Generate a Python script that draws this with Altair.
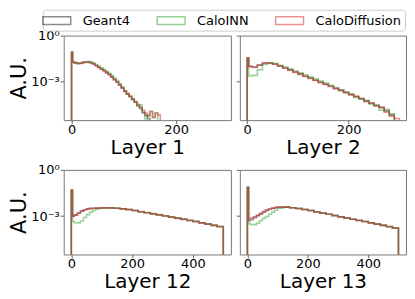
import altair as alt
import pandas as pd

series = ["Geant4", "CaloINN", "CaloDiffusion"]
colors = ["#000000", "#2ca02c", "#d62728"]
alphas = [0.45, 0.5, 0.3]

layer_titles = ["Layer 1", "Layer 2", "Layer 12", "Layer 13"]

# bin edges per layer
l1_edges = [0, 2] + list(range(5, 175, 5))
l2_edges = [0, 3] + list(range(10, 320, 10))
l12_edges = [0, 4] + list(range(10, 100, 10)) + list(range(100, 520, 20))
l13_edges = [0, 4] + list(range(10, 100, 10)) + list(range(100, 520, 20))

# Layer 1
g4_l1 = [0.08, 0.018, 0.0165, 0.0145, 0.015, 0.0168, 0.018, 0.018, 0.0165, 0.014,
         0.0107, 0.0083, 0.0063, 0.005, 0.0038, 0.0028, 0.0019, 0.0013, 9e-4, 5.6e-4,
         3.5e-4, 2.1e-4, 1.4e-4, 1e-4, 6.3e-5, 4.2e-5, 2.5e-5, 1.6e-5, 9e-6, 5.6e-6,
         3.5e-6, 0, 0, 0, 0]
inn_l1 = [0.07, 0.017, 0.016, 0.015, 0.0155, 0.0172, 0.019, 0.0195, 0.018, 0.0155,
          0.0125, 0.0098, 0.0075, 0.0058, 0.0045, 0.0033, 0.0023, 0.0016, 0.0011, 7e-4,
          4.2e-4, 2.4e-4, 1.5e-4, 9e-5, 7e-5, 4e-5, 2.2e-5, 2.8e-5, 8e-6, 0,
          6e-6, 1e-5, 4e-6, 8e-6, 0]
diff_l1 = [0.085, 0.019, 0.0165, 0.014, 0.0148, 0.0165, 0.0175, 0.0172, 0.0155, 0.013,
           0.0102, 0.008, 0.006, 0.0046, 0.0035, 0.0026, 0.0018, 0.0012, 8.5e-4, 5.5e-4,
           3.6e-4, 2.3e-4, 1.5e-4, 1e-4, 6.5e-5, 4.5e-5, 3e-5, 2e-5, 1.2e-5, 8e-6,
           5e-6, 1e-5, 4e-6, 8e-6, 6e-6]

# Layer 2
g4_l2 = [0.034, 0.0095, 0.0085, 0.0115, 0.0155, 0.0158, 0.0135, 0.01, 0.0074, 0.0055,
         0.004, 0.003, 0.0021, 0.0016, 0.00115, 8.5e-4, 6.3e-4, 4.6e-4, 3.3e-4, 2.45e-4,
         1.8e-4, 1.3e-4, 9.5e-5, 7e-5, 5e-5, 3.5e-5, 2.5e-5, 1.8e-5, 1.1e-5, 6e-6,
         0, 0]
inn_l2 = [0.03, 0.0022, 0.0024, 0.0055, 0.0125, 0.016, 0.0145, 0.0112, 0.0085, 0.0064,
          0.0047, 0.0035, 0.0026, 0.0019, 0.0014, 1e-3, 7.4e-4, 5.4e-4, 3.8e-4, 2.7e-4,
          1.9e-4, 1.4e-4, 8.5e-5, 6.5e-5, 5.5e-5, 3e-5, 2.8e-5, 1.2e-5, 1.4e-5, 7e-6,
          0, 0]
diff_l2 = [0.034, 0.009, 0.008, 0.011, 0.015, 0.0155, 0.013, 0.0097, 0.0071, 0.0052,
           0.0038, 0.0028, 0.002, 0.0015, 0.0011, 8e-4, 6e-4, 4.4e-4, 3.2e-4, 2.4e-4,
           1.75e-4, 1.3e-4, 1e-4, 7.5e-5, 4.5e-5, 3.8e-5, 2.2e-5, 2e-5, 9e-6, 5e-6,
           3.5e-6, 0]

# Layer 12
g4_l12 = [0.05, 1e-3, 1.2e-3, 1.6e-3, 2.1e-3, 2.6e-3, 2.95e-3, 3.15e-3, 3.25e-3, 3.3e-3,
          3.35e-3, 3.4e-3, 3.4e-3, 3.25e-3, 2.95e-3, 2.65e-3, 2.3e-3, 1.9e-3, 1.66e-3, 1.4e-3,
          1.2e-3, 1e-3, 8.5e-4, 7.2e-4, 6.2e-4, 5.2e-4, 4.4e-4, 3.6e-4, 3e-4, 2.5e-4,
          2.1e-4]
inn_l12 = [0.048, 4.5e-4, 3.7e-4, 3.6e-4, 4.8e-4, 8e-4, 1.25e-3, 1.8e-3, 2.35e-3, 2.8e-3,
           3.1e-3, 3.4e-3, 3.5e-3, 3.35e-3, 3e-3, 2.65e-3, 2.3e-3, 1.95e-3, 1.7e-3, 1.45e-3,
           1.25e-3, 1.05e-3, 9e-4, 7.6e-4, 6.4e-4, 5.4e-4, 4.5e-4, 3.7e-4, 3.1e-4, 2.6e-4,
           2.1e-4]
diff_l12 = [0.05, 9.5e-4, 1.15e-3, 1.55e-3, 2.05e-3, 2.55e-3, 2.9e-3, 3.1e-3, 3.25e-3, 3.3e-3,
            3.35e-3, 3.4e-3, 3.4e-3, 3.25e-3, 2.95e-3, 2.62e-3, 2.28e-3, 1.9e-3, 1.64e-3, 1.4e-3,
            1.18e-3, 1e-3, 8.4e-4, 7.1e-4, 6.1e-4, 5.2e-4, 4.4e-4, 3.6e-4, 3e-4, 2.5e-4,
            2.05e-4]

# Layer 13
g4_l13 = [0.075, 5e-4, 6e-4, 8e-4, 1.05e-3, 1.4e-3, 1.85e-3, 2.35e-3, 2.85e-3, 3.25e-3,
          3.55e-3, 3.8e-3, 3.8e-3, 3.45e-3, 3.1e-3, 2.7e-3, 2.3e-3, 1.82e-3, 1.55e-3, 1.3e-3,
          1.07e-3, 8.9e-4, 7.4e-4, 6.2e-4, 5.2e-4, 4.4e-4, 3.6e-4, 3e-4, 2.5e-4, 2.1e-4,
          1.66e-4]
inn_l13 = [0.072, 3.2e-4, 2.8e-4, 2.8e-4, 3.5e-4, 5e-4, 7e-4, 9.5e-4, 1.3e-3, 1.8e-3,
           2.4e-3, 3.2e-3, 3.8e-3, 3.5e-3, 3.15e-3, 2.75e-3, 2.3e-3, 1.85e-3, 1.57e-3, 1.3e-3,
           1.08e-3, 9e-4, 7.5e-4, 6.2e-4, 5.3e-4, 4.4e-4, 3.7e-4, 3.1e-4, 2.6e-4, 2e-4,
           1.7e-4]
diff_l13 = [0.075, 7e-4, 7.5e-4, 9e-4, 1.15e-3, 1.5e-3, 1.95e-3, 2.45e-3, 2.9e-3, 3.3e-3,
            3.6e-3, 3.8e-3, 3.8e-3, 3.45e-3, 3.1e-3, 2.7e-3, 2.3e-3, 1.85e-3, 1.55e-3, 1.3e-3,
            1.08e-3, 8.9e-4, 7.4e-4, 6.2e-4, 5.2e-4, 4.4e-4, 3.6e-4, 3e-4, 2.5e-4, 2.1e-4,
            1.7e-4]

x_ticks_top = [0, 200]
x_ticks_bottom = [0, 200, 400]
y_ticks = [1, 0.001]

FLOOR = 1e-9


def step_frame(edges, value_lists):
    rows = []
    for name, vals in zip(series, value_lists):
        idx = 0
        pts = [(edges[0], FLOOR)]
        for e, v in zip(edges[:-1], vals):
            pts.append((e, v if v > 0 else FLOOR))
        last = vals[-1] if vals[-1] > 0 else FLOOR
        pts.append((edges[-1], last))
        pts.append((edges[-1], FLOOR))
        for x, y in pts:
            rows.append({"series": name, "x": x, "y": y, "idx": idx})
            idx += 1
    return pd.DataFrame(rows)


legend = alt.Legend(
    title=None, orient="none", legendX=-21, legendY=-26, direction="horizontal",
    symbolType="M-2,-0.57L2,-0.57L2,0.57L-2,0.57Z", symbolSize=196,
    symbolOffset=3, symbolStrokeWidth=1.5, symbolFillColor="transparent",
    labelFontSize=13, labelFont="DejaVu Sans", labelColor="black",
    labelOffset=18, columnPadding=24, padding=3,
    strokeColor="#cccccc", cornerRadius=3, fillColor="white",
)


def panel(df, title, xdom, ydom, xticks, left, w):
    if left:
        yaxis = alt.Axis(values=y_ticks, labelExpr="datum.value > 0.5 ? '10⁰' : '10⁻³'",
                         title="A.U.", titleFontSize=21, titleFontWeight="normal",
                         titlePadding=1, labelFontSize=13, labelPadding=1,
                         tickSize=3.5, grid=False, domain=False)
    else:
        yaxis = alt.Axis(values=y_ticks, labels=False, title=None,
                         tickSize=3.5, grid=False, domain=False)
    xaxis = alt.Axis(values=xticks, title=title, titleFontSize=20, titleFontWeight="normal",
                     titlePadding=1, labelFontSize=13, labelPadding=0, tickSize=3.5,
                     grid=False, domain=False, labelFlush=False)
    return alt.Chart(df).mark_line(interpolate="step-after", clip=True, strokeWidth=1.6).encode(
        x=alt.X("x:Q", scale=alt.Scale(domain=xdom, nice=False, zero=False), axis=xaxis),
        y=alt.Y("y:Q", scale=alt.Scale(type="log", domain=ydom, nice=False), axis=yaxis),
        color=alt.Color("series:N", scale=alt.Scale(domain=series, range=colors), legend=legend),
        opacity=alt.Opacity("series:N", scale=alt.Scale(domain=series, range=alphas), legend=legend),
        order=alt.Order("idx:Q"),
    ).properties(width=w, height=85)


p1 = panel(step_frame(l1_edges, [g4_l1, inn_l1, diff_l1]), layer_titles[0],
           [-15, 305], [2.7e-6, 1], x_ticks_top, True, 168)
p2 = panel(step_frame(l2_edges, [g4_l2, inn_l2, diff_l2]), layer_titles[1],
           [-14.5, 313], [2.7e-6, 1], x_ticks_top, False, 167)
p3 = panel(step_frame(l12_edges, [g4_l12, inn_l12, diff_l12]), layer_titles[2],
           [-25, 525], [3.2e-6, 1], x_ticks_bottom, True, 168)
p4 = panel(step_frame(l13_edges, [g4_l13, inn_l13, diff_l13]), layer_titles[3],
           [-25, 525], [3.2e-6, 1], x_ticks_bottom, False, 167)

chart = alt.concat(
    p1, p2, p3, p4, columns=2, spacing={"row": 50, "column": 9}, bounds="flush"
).resolve_scale(
    x="independent", y="independent", color="shared", opacity="shared"
).properties(padding=0).configure_axis(
    labelFont="DejaVu Sans", titleFont="DejaVu Sans", labelColor="black",
    titleColor="black", tickColor="#666666",
).configure_view(stroke="#777777", strokeWidth=1)

chart.save("out.html", embed_options={"renderer": "svg", "actions": False})
